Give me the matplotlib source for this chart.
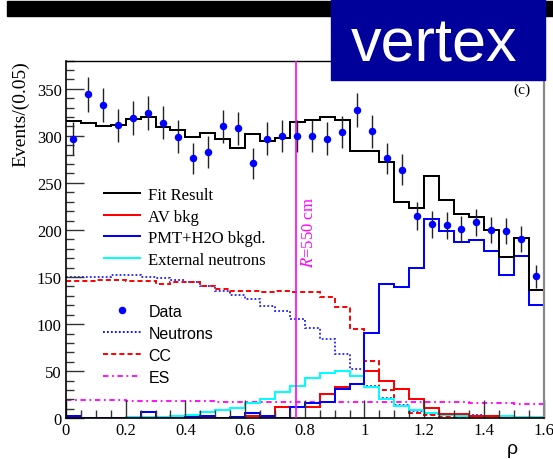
import numpy as np
import matplotlib
matplotlib.use("Agg")
import matplotlib.pyplot as plt
from matplotlib.patches import Rectangle
from matplotlib.ticker import MultipleLocator, FuncFormatter

# 32 bins of width 0.05 in rho
edges = np.round(np.arange(0, 1.6001, 0.05), 3)
centers = 0.5 * (edges[:-1] + edges[1:])

data = [297, 344, 333, 311, 319, 324, 314, 299, 276, 283, 310, 308, 271, 297, 300, 300,
        300, 297, 304, 327, 305, 276, 264, 215, 206, 205, 201, 208, 200, 199, 190, 151]
fit_result = [316, 313.5, 310, 311, 318, 320, 309, 306, 299, 303, 297, 287, 302, 294, 297.7, 315,
              316.8, 320.3, 317, 283.5, 284.2, 272, 230, 223, 257, 232, 217, 214, 200, 171.6, 191, 136.6]
av_bkg = [0.5, 0.5, 0.5, 0.5, 0.5, 0.5, 0.5, 0.5, 0.8, 0.8, 0.5, 0.5, 2.1, 1.0, 11.7, 11.7,
          11.7, 25.5, 33.2, 36.5, 50.6, 39.1, 31.5, 20.5, 11.3, 4.6, 4.6, 2.1, 2.1, 0.7, 0.7, 0.7]
pmt_h2o = [2.1, 0.6, 0.6, 0.6, 0.6, 6.5, 0.5, 0.6, 1.8, 2.8, 0.6, 1.0, 5.7, 2.8, 0.3, 12.4,
           16.5, 17.7, 30.8, 36.8, 90.2, 142.5, 139, 159.3, 211.6, 199.3, 187.6, 189.7, 178, 152.2, 172.7, 120.3]
ext_neutrons = [0.3, 0.3, 0.5, 0.8, 1.0, 1.3, 1.7, 2.8, 3.9, 6.4, 8.5, 11.3, 16.0, 21.0, 27.6, 34.7,
                42.3, 48.0, 50.1, 44.6, 33.0, 20.8, 13.5, 8.5, 6.0, 3.5, 2.8, 2.0, 2.0, 2.0, 1.4, 1.4]
neutrons = [150.4, 150.4, 150.4, 152.6, 152.2, 150.4, 149.0, 147.0, 145.0, 140.5, 134.7, 131.2, 126.7, 119.6, 114.3, 105.8,
            95.6, 83.7, 68.8, 52.0, 34.3, 22.0, 14.0, 8.0, 5.0, 3.0, 3.0, 3.0, 2.5, 2.0, 1.5, 1.5]
cc = [146.3, 146.3, 146.8, 147.0, 145.8, 145.4, 143.1, 144.4, 144.7, 141.0, 137.0, 135.5, 134.8, 133.8, 134.8, 134.1,
      134.1, 128.5, 118.4, 94.8, 60.5, 30.0, 13.0, 6.0, 3.0, 2.0, 1.5, 1.0, 1.0, 1.0, 1.0, 1.0]
es = [19.5, 19.3, 19.2, 19.0, 18.8, 18.7, 18.5, 18.3, 18.1, 18.0, 17.8, 17.6, 17.4, 17.3, 17.2, 17.1,
      17.0, 17.0, 16.9, 16.9, 17.2, 17.5, 17.8, 17.5, 17.2, 17.0, 16.8, 16.5, 16.2, 15.9, 15.6, 15.3]

x_ticks = [0, 0.2, 0.4, 0.6, 0.8, 1.0, 1.2, 1.4, 1.6]
y_ticks = [0, 50, 100, 150, 200, 250, 300, 350]
r_cut = (550 / 600) ** 3

SERIF = "Liberation Serif"
SANS = "Liberation Sans"

W, H = 553, 460
fig = plt.figure(figsize=(W / 100, H / 100), dpi=100)
ax = fig.add_axes([66 / W, 1 - 419.3 / H, 477.5 / W, 357.8 / H])

lw = 1.45
h_es, = ax.plot([], [], color="#ff00ff", lw=1.3, ls=(0, (3, 2, 1, 2)))
ax.stairs(es, edges, baseline=None, color="#ff00ff", lw=1.3, ls=(0, (3, 2, 1, 2)))
h_neu, = ax.plot([], [], color="#0000ff", lw=1.3, ls=(0, (1, 1.2)))
ax.stairs(neutrons, edges, baseline=None, color="#2020ff", lw=1.3, ls=(0, (1, 1.2)))
h_cc, = ax.plot([], [], color="#ff0000", lw=1.4, ls=(0, (2.6, 1.6)))
ax.stairs(cc, edges, baseline=None, color="#ff0000", lw=1.4, ls=(0, (2.6, 1.6)))
h_ext, = ax.plot([], [], color="#00ffff", lw=lw)
ax.stairs(ext_neutrons, edges, baseline=None, color="#00ffff", lw=lw)
h_av, = ax.plot([], [], color="#ff0000", lw=lw)
ax.stairs(av_bkg, edges, baseline=None, color="#ff0000", lw=lw)
h_pmt, = ax.plot([], [], color="#0000ff", lw=lw)
ax.stairs(pmt_h2o, edges, baseline=None, color="#0000ff", lw=lw)
h_fit, = ax.plot([], [], color="black", lw=lw)
ax.stairs(fit_result, edges, baseline=None, color="black", lw=lw)

ax.errorbar(centers, data, yerr=np.sqrt(data), fmt="none", ecolor="#222222", elinewidth=1.0, zorder=4)
h_data, = ax.plot(centers, data, "o", color="#0000ff", ms=4.4, mec="#0000ff", zorder=5, ls="none")

ax.axvline(r_cut, color="#ff00ff", lw=1.2, zorder=3)
ax.text(r_cut + 0.044, 198, r"$R$=550 cm", rotation=90, ha="center", va="center",
        color="#ff00ff", fontsize=12, family=SERIF, math_fontfamily="stix")

ax.set_xlim(0, 1.6)
ax.set_ylim(0, 380)
ax.set_xticks(x_ticks)
ax.set_yticks(y_ticks)
ax.xaxis.set_minor_locator(MultipleLocator(0.05))
ax.yaxis.set_minor_locator(MultipleLocator(10))
ax.xaxis.set_major_formatter(FuncFormatter(lambda v, p: f"{v:g}"))
ax.tick_params(which="both", direction="in", top=False, right=False, width=1.0, color="#333333")
ax.tick_params(which="major", length=13, labelsize=12, pad=3)
ax.tick_params(which="minor", length=6)
for lab in ax.get_xticklabels() + ax.get_yticklabels():
    lab.set_family(SERIF)
ax.spines["left"].set_linewidth(1.2)
ax.spines["bottom"].set_linewidth(1.2)
ax.spines["top"].set_linewidth(1.0)
ax.spines["right"].set_color("#888888")
ax.spines["right"].set_linewidth(1.6)

ax.set_ylabel("Events/(0.05)", family=SERIF, fontsize=14, loc="top", labelpad=5)
fig.text(518 / W, 1 - 450 / H, "ρ", family=SANS, fontsize=14, ha="right", va="center")
ax.text(0.955, 0.92, "(c)", transform=ax.transAxes, family=SERIF, fontsize=11, ha="center", va="center")

leg1 = ax.legend([h_fit, h_av, h_pmt, h_ext],
                 ["Fit Result", "AV bkg", "PMT+H2O bkgd.", "External neutrons"],
                 loc="upper left", bbox_to_anchor=(0.0796, 0.647), frameon=False,
                 prop={"family": SERIF, "size": 12}, borderpad=0, borderaxespad=0,
                 handlelength=2.15, handletextpad=0.5, labelspacing=0.345)
ax.add_artist(leg1)
ax.legend([h_data, h_neu, h_cc, h_es], ["Data", "Neutrons", "CC", "ES"],
          loc="upper left", bbox_to_anchor=(0.0775, 0.3196), frameon=False,
          prop={"family": SANS, "size": 11.5}, borderpad=0, borderaxespad=0,
          handlelength=2.4, handletextpad=0.45, labelspacing=0.44)

# header bar and label box
fig.patches.append(Rectangle((7 / W, 1 - 17 / H), (W - 7) / W, 15 / H, transform=fig.transFigure,
                             color="black", zorder=10))
fig.patches.append(Rectangle((331 / W, 1 - 80.7 / H), 214 / W, 80.7 / H, transform=fig.transFigure,
                             color="#00009a", zorder=11))
fig.text(434 / W, 1 - 39 / H, "vertex", color="white", family=SANS, fontsize=44,
         ha="center", va="center_baseline", zorder=12)

fig.savefig("out.png", dpi=100)
